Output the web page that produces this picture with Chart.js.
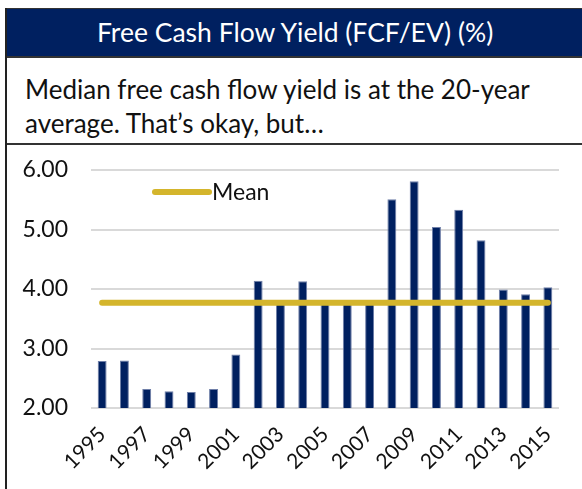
<!DOCTYPE html>
<html>
<head>
<meta charset="utf-8">
<script src="https://cdn.jsdelivr.net/npm/chart.js@4.4.1/dist/chart.umd.min.js"></script>
<style>
  body { margin: 0; width: 582px; height: 489px; background: #fff; overflow: hidden; font-family: Lato, "Open Sans", sans-serif; }
  #frame { position: absolute; left: 5px; top: 8px; width: 590px; height: 490px; border-left: 2px solid #222; }
  #header { position: absolute; left: 0; top: 0; width: 100%; height: 47px; background: #002060; border-top: 1px solid #333; border-bottom: 2px solid #333; color: #fff; font-size: 26.5px; line-height: 46px; }
  #header span { position: absolute; left: 90px; }
  #sub { position: absolute; left: 18px; top: 64px; font-size: 26px; line-height: 34px; color: #111; }
  #sep { position: absolute; left: 0; top: 135px; width: 100%; border-top: 2px solid #333; }
  #wrap { position: absolute; left: 0; top: 138px; width: 575px; height: 343px; }
</style>
</head>
<body>
<div id="frame">
  <div id="header"><span>Free Cash Flow Yield (FCF/EV) (%)</span></div>
  <div id="sub">Median free cash flow yield is at the 20-year<br>average. That’s okay, but…</div>
  <div id="sep"></div>
  <div id="wrap"><canvas id="fcfChart" width="575" height="343"></canvas></div>
</div>
<script>
const years = ['1995','1996','1997','1998','1999','2000','2001','2002','2003','2004','2005',
  '2006','2007','2008','2009','2010','2011','2012','2013','2014','2015'];
const fcfYield = [2.79, 2.80, 2.32, 2.28, 2.27, 2.32, 2.90, 4.14, 3.76, 4.13, 3.76,
  3.76, 3.76, 5.51, 5.81, 5.04, 5.33, 4.82, 3.99, 3.91, 4.03];
const meanYield = 3.77;
const yTicks = [2, 3, 4, 5, 6];

const gold = '#D4B52C';
const navy = '#002060';

// legend inside the plot, only for the Mean series
const meanLegend = {
  id: 'meanLegend',
  afterDraw(chart) {
    const ctx = chart.ctx;
    const ds = chart.data.datasets[0];
    const x = 148, y = 46;
    ctx.save();
    ctx.strokeStyle = ds.borderColor;
    ctx.lineWidth = 6;
    ctx.lineCap = 'round';
    ctx.beginPath();
    ctx.moveTo(x, y);
    ctx.lineTo(x + 54, y);
    ctx.stroke();
    ctx.fillStyle = '#111';
    ctx.font = '23px Lato, "Open Sans", sans-serif';
    ctx.textBaseline = 'middle';
    ctx.fillText(ds.label, x + 57, y + 1);
    ctx.restore();
  }
};

const ctx = document.getElementById('fcfChart').getContext('2d');
new Chart(ctx, {
  type: 'bar',
  data: {
    labels: years,
    datasets: [
      {
        type: 'line',
        label: 'Mean',
        data: years.map(() => meanYield),
        borderColor: gold,
        borderWidth: 6,
        borderCapStyle: 'round',
        pointRadius: 0,
        order: 0
      },
      {
        label: 'FCF/EV',
        data: fcfYield,
        backgroundColor: navy,
        borderColor: '#6f7fa8',
        borderWidth: { left: 1, right: 1, top: 1, bottom: 0 },
        categoryPercentage: 1,
        barPercentage: 0.4,
        order: 1
      }
    ]
  },
  plugins: [meanLegend],
  options: {
    responsive: false,
    animation: false,
    layout: { padding: { top: 24, right: 23, bottom: 0, left: 0 } },
    plugins: { legend: { display: false }, tooltip: { enabled: false } },
    scales: {
      x: {
        grid: { display: false },
        border: { display: false },
        ticks: {
          autoSkip: false,
          maxRotation: 45,
          minRotation: 45,
          padding: 6,
          color: '#111',
          font: { family: 'Lato', size: 21 },
          callback: (v, i) => (i % 2 === 0 ? years[i] : '')
        },
        afterFit: s => { s.height = 81; }
      },
      y: {
        min: 2,
        max: 6,
        afterBuildTicks: s => { s.ticks = yTicks.map(v => ({ value: v })); },
        grid: { color: '#d9d9d9', lineWidth: 2, drawTicks: true, tickLength: 23, tickColor: 'rgba(0,0,0,0)' },
        border: { display: false },
        ticks: {
          padding: 0,
          color: '#111',
          font: { family: 'Lato', size: 23 },
          callback: v => v.toFixed(2)
        },
        afterFit: s => { s.width = 84; }
      }
    }
  }
});
</script>
</body>
</html>
